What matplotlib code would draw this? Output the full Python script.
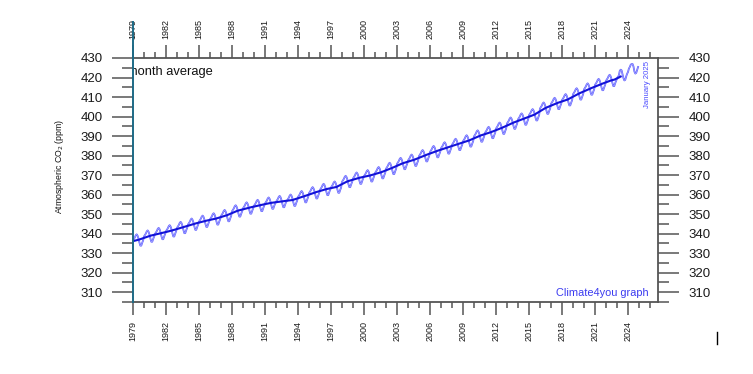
import numpy as np
import pandas as pd
import matplotlib
matplotlib.use("Agg")
import matplotlib.pyplot as plt
from matplotlib import font_manager
from matplotlib.lines import Line2D

# ---------------- data (monthly CO2, ppm) ----------------
start_year = 1978
start_month = 6  # July 1978 (0-based month index)
co2_monthly = [
    # 1978 (Jul-Dec)
    336.0, 334.0, 332.4, 332.4, 333.8, 335.0,
    # 1979
    336.5, 337.3, 338.0, 339.1, 339.6, 338.9, 337.4, 335.4, 333.8, 333.8, 335.2, 336.4,
    # 1980
    338.5, 339.3, 340.0, 341.1, 341.6, 340.9, 339.4, 337.4, 335.8, 335.8, 337.2, 338.4,
    # 1981
    339.8, 340.6, 341.3, 342.4, 342.9, 342.2, 340.7, 338.7, 337.1, 337.1, 338.5, 339.7,
    # 1982
    341.2, 342.0, 342.7, 343.8, 344.3, 343.6, 342.1, 340.1, 338.5, 338.5, 339.9, 341.1,
    # 1983
    342.9, 343.7, 344.4, 345.5, 346.0, 345.3, 343.8, 341.8, 340.2, 340.2, 341.6, 342.8,
    # 1984
    344.6, 345.4, 346.1, 347.2, 347.7, 347.0, 345.5, 343.5, 341.9, 341.9, 343.3, 344.5,
    # 1985
    346.1, 346.9, 347.6, 348.7, 349.2, 348.5, 347.0, 345.0, 343.4, 343.4, 344.8, 346.0,
    # 1986
    347.3, 348.1, 348.8, 349.9, 350.4, 349.7, 348.2, 346.2, 344.6, 344.6, 346.0, 347.2,
    # 1987
    349.0, 349.8, 350.5, 351.6, 352.1, 351.4, 349.9, 347.9, 346.3, 346.3, 347.7, 348.9,
    # 1988
    351.4, 352.2, 352.9, 354.0, 354.5, 353.8, 352.3, 350.3, 348.7, 348.7, 350.1, 351.3,
    # 1989
    352.9, 353.7, 354.4, 355.5, 356.0, 355.3, 353.8, 351.8, 350.2, 350.2, 351.6, 352.8,
    # 1990
    354.2, 355.0, 355.7, 356.8, 357.3, 356.6, 355.1, 353.1, 351.5, 351.5, 352.9, 354.1,
    # 1991
    355.4, 356.2, 356.9, 358.0, 358.5, 357.8, 356.3, 354.3, 352.7, 352.7, 354.1, 355.3,
    # 1992
    356.2, 357.0, 357.7, 358.8, 359.3, 358.6, 357.1, 355.1, 353.5, 353.5, 354.9, 356.1,
    # 1993
    356.9, 357.7, 358.4, 359.5, 360.0, 359.3, 357.8, 355.8, 354.2, 354.2, 355.6, 356.8,
    # 1994
    358.7, 359.5, 360.2, 361.3, 361.8, 361.1, 359.6, 357.6, 356.0, 356.0, 357.4, 358.6,
    # 1995
    360.7, 361.5, 362.2, 363.3, 363.8, 363.1, 361.6, 359.6, 358.0, 358.0, 359.4, 360.6,
    # 1996
    362.4, 363.2, 363.9, 365.0, 365.5, 364.8, 363.3, 361.3, 359.7, 359.7, 361.1, 362.3,
    # 1997
    363.6, 364.4, 365.1, 366.2, 366.7, 366.0, 364.5, 362.5, 360.9, 360.9, 362.3, 363.5,
    # 1998
    366.5, 367.3, 368.0, 369.1, 369.6, 368.9, 367.4, 365.4, 363.8, 363.8, 365.2, 366.4,
    # 1999
    368.2, 369.0, 369.7, 370.8, 371.3, 370.6, 369.1, 367.1, 365.5, 365.5, 366.9, 368.1,
    # 2000
    369.4, 370.2, 370.9, 372.0, 372.5, 371.8, 370.3, 368.3, 366.7, 366.7, 368.1, 369.3,
    # 2001
    371.0, 371.8, 372.5, 373.6, 374.1, 373.4, 371.9, 369.9, 368.3, 368.3, 369.7, 370.9,
    # 2002
    373.2, 374.0, 374.7, 375.8, 376.3, 375.6, 374.1, 372.1, 370.5, 370.5, 371.9, 373.1,
    # 2003
    375.7, 376.5, 377.2, 378.3, 378.8, 378.1, 376.6, 374.6, 373.0, 373.0, 374.4, 375.6,
    # 2004
    377.4, 378.2, 378.9, 380.0, 380.5, 379.8, 378.3, 376.3, 374.7, 374.7, 376.1, 377.3,
    # 2005
    379.7, 380.5, 381.2, 382.3, 382.8, 382.1, 380.6, 378.6, 377.0, 377.0, 378.4, 379.6,
    # 2006
    381.8, 382.6, 383.3, 384.4, 384.9, 384.2, 382.7, 380.7, 379.1, 379.1, 380.5, 381.7,
    # 2007
    383.7, 384.5, 385.2, 386.3, 386.8, 386.1, 384.6, 382.6, 381.0, 381.0, 382.4, 383.6,
    # 2008
    385.5, 386.3, 387.0, 388.1, 388.6, 387.9, 386.4, 384.4, 382.8, 382.8, 384.2, 385.4,
    # 2009
    387.3, 388.1, 388.8, 389.9, 390.4, 389.7, 388.2, 386.2, 384.6, 384.6, 386.0, 387.2,
    # 2010
    389.8, 390.6, 391.3, 392.4, 392.9, 392.2, 390.7, 388.7, 387.1, 387.1, 388.5, 389.7,
    # 2011
    391.6, 392.4, 393.1, 394.2, 394.7, 394.0, 392.5, 390.5, 388.9, 388.9, 390.3, 391.5,
    # 2012
    393.8, 394.6, 395.3, 396.4, 396.9, 396.2, 394.7, 392.7, 391.1, 391.1, 392.5, 393.7,
    # 2013
    396.4, 397.2, 397.9, 399.0, 399.5, 398.8, 397.3, 395.3, 393.7, 393.7, 395.1, 396.3,
    # 2014
    398.5, 399.3, 400.0, 401.1, 401.6, 400.9, 399.4, 397.4, 395.8, 395.8, 397.2, 398.4,
    # 2015
    400.7, 401.5, 402.2, 403.3, 403.8, 403.1, 401.6, 399.6, 398.0, 398.0, 399.4, 400.6,
    # 2016
    404.1, 404.9, 405.6, 406.7, 407.2, 406.5, 405.0, 403.0, 401.4, 401.4, 402.8, 404.0,
    # 2017
    406.5, 407.3, 408.0, 409.1, 409.6, 408.9, 407.4, 405.4, 403.8, 403.8, 405.2, 406.4,
    # 2018
    408.4, 409.2, 409.9, 411.0, 411.5, 410.8, 409.3, 407.3, 405.7, 405.7, 407.1, 408.3,
    # 2019
    411.4, 412.2, 412.9, 414.0, 414.5, 413.8, 412.3, 410.3, 408.7, 408.7, 410.1, 411.3,
    # 2020
    413.9, 414.7, 415.4, 416.5, 417.0, 416.3, 414.8, 412.8, 411.2, 411.2, 412.6, 413.8,
    # 2021
    416.2, 417.0, 417.7, 418.8, 419.3, 418.6, 417.1, 415.1, 413.5, 413.5, 414.9, 416.1,
    # 2022
    418.3, 419.1, 419.8, 420.9, 421.4, 420.7, 419.2, 417.2, 415.6, 415.6, 417.0, 418.2,
    # 2023
    419.5, 420.4, 421.0, 423.4, 424.0, 423.7, 421.8, 419.7, 418.5, 418.8, 420.5, 421.9,
    # 2024
    422.8, 424.6, 425.4, 426.6, 426.9, 426.9, 425.6, 423.0, 422.0, 422.4, 423.9, 425.4,
]
plot_from = 1979.0
avg_end = 2023.4

yticks_major = [310, 320, 330, 340, 350, 360, 370, 380, 390, 400, 410, 420, 430]
xticks_major = [1979, 1982, 1985, 1988, 1991, 1994, 1997, 2000, 2003, 2006,
                2009, 2012, 2015, 2018, 2021, 2024]
xticks_minor = list(range(1979, 2027))
yticks_minor = list(range(305, 431, 5))

# ---------------- derived series ----------------
t = start_year + (start_month + np.arange(len(co2_monthly))) / 12.0
s = pd.Series(co2_monthly, index=t)
avg = s.rolling(12, center=True).mean()
mon = s[s.index >= plot_from - 1e-9]
avg = avg[(avg.index >= plot_from - 1e-9) & (avg.index <= avg_end)].dropna()

# ---------------- fonts ----------------
names = {f.name for f in font_manager.fontManager.ttflist}
if "Liberation Sans Narrow" in names:
    NARROW, NSIZE = "Liberation Sans Narrow", 7.2
else:
    NARROW, NSIZE = "Liberation Sans", 6.5
plt.rcParams["font.family"] = ["Liberation Sans", "DejaVu Sans"]

# ---------------- figure ----------------
W, H = 753, 374
fig = plt.figure(figsize=(W / 100, H / 100), dpi=100)
ax = fig.add_axes([133 / W, 1 - 302 / H, (658 - 133) / W, (302 - 58) / H])
ax.set_xlim(1979, 1979 + 525 / 11.0)
ax.set_ylim(304.9, 430)

# monthly values: double-edged light blue line
ax.plot(mon.index, mon.values, color="#6060ff", lw=1.3)
ax.plot(mon.index, mon.values, color="#c0c0ff", lw=0.35)
# 12-month average
ax.plot(avg.index, avg.values, color="#1212d8", lw=1.5)

gray = "#555555"
for side in ["top", "bottom", "right"]:
    ax.spines[side].set_color(gray)
    ax.spines[side].set_linewidth(1.3)
ax.spines["left"].set_visible(False)

ax.set_xticks(xticks_major)
ax.set_xticks(xticks_minor, minor=True)
ax.set_yticks(yticks_major)
ax.set_yticks(yticks_minor, minor=True)

ax.tick_params(axis="x", which="major", top=True, bottom=True, labeltop=True,
               labelbottom=True, direction="out", length=9.2, width=1.1,
               color=gray, pad=4.2, labelrotation=90, labelsize=NSIZE,
               labelcolor="#1a1a1a")
ax.tick_params(axis="x", which="minor", top=True, bottom=True, direction="out",
               length=4.6, width=1.1, color=gray)
ax.tick_params(axis="y", which="major", left=True, right=True, labelleft=True,
               labelright=True, direction="out", length=15, width=1.1,
               color=gray, pad=7, labelsize=9.5, labelcolor="#1a1a1a")
ax.tick_params(axis="y", which="minor", left=True, right=True, direction="out",
               length=7.8, width=1.1, color=gray)
for lab in ax.get_xticklabels():
    lab.set_family(NARROW)

# teal vertical line at start of record
ax.plot([1979, 1979], [304.9, 430 + 36 / 1.952], color="#1d6a86", lw=1.4,
        clip_on=False, zorder=5)

# texts
ax.text(1978.45, 422.9, "month average", fontsize=9.3, color="#111111",
        va="center", ha="left", clip_on=True)
ax.text(2025.75, 416.2, "January 2025", rotation=90, fontsize=5.6,
        family=NARROW, color="#4a4aff", va="center", ha="center")
ax.text(2025.9, 309.6, "Climate4you graph", fontsize=7.9, color="#3b3bf0",
        va="center", ha="right")
fig.text(59 / W, 1 - 166 / H, "Atmospheric CO$_2$ (ppm)", rotation=90,
         fontsize=6.3, family=NARROW, va="center", ha="center", color="#111111")

# small cursor mark
fig.add_artist(Line2D([716.5 / W, 716.5 / W], [1 - 332 / H, 1 - 344 / H],
                      color="black", lw=1.0))

fig.savefig("out.png", dpi=100)
